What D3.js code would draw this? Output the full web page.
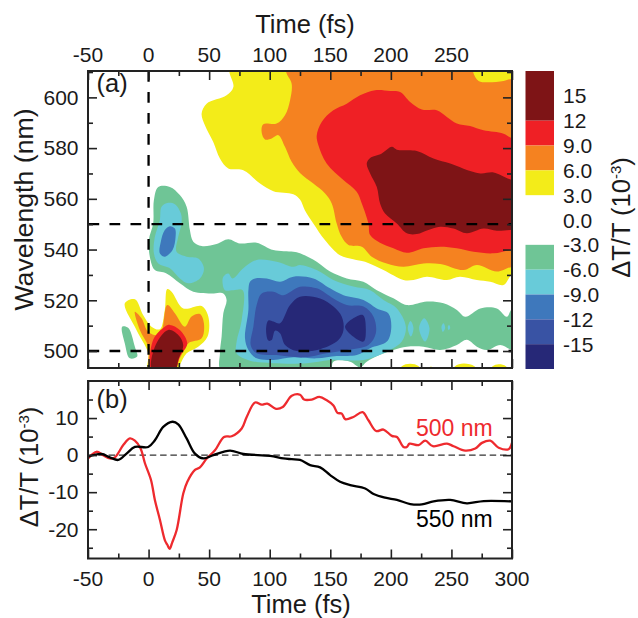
<!DOCTYPE html>
<html><head><meta charset="utf-8">
<script src="https://cdn.jsdelivr.net/npm/d3@7"></script>
<style>html,body{margin:0;padding:0;background:#fff}svg{display:block}text{font-family:"Liberation Sans",Arial,sans-serif;fill:#1a1a1a}</style>
</head><body><svg id="c" width="638" height="618"></svg>
<script>
// ---- colours of the contour bands
const cDark="#7E1416",cRed="#EF2025",cOrange="#F58220",cYellow="#F3EC19";
const cGreen="#6FC596",cCyan="#68CBD9",cBlue="#3E78BC",cMid="#3953A4",cNavy="#262877";

// ---- contour outlines: [time fs, wavelength nm]
const yellowMain=[[66.6,620],[66.6,610.3],[70,604.1],[64.4,600.8],[47.9,597.5],[43.8,593.6],[46.5,589],[53.4,582.4],[58.9,575.9],[65.8,572],[78.2,571.3],[92,566],[103,563],[119.5,561.8],[125,559.7],[129,555.5],[136,550.3],[145.7,543.7],[158,537.8],[169,536.2],[178.7,535.2],[193.9,531.9],[210.4,528],[218.7,528],[229.7,529.3],[246.2,528],[257,529.3],[271,528],[282,527.3],[293,526],[301.3,530.6],[325,530],[325,620]];
const orangeMain=[[113.4,620],[113.4,610.3],[118.1,605.4],[116.8,598.9],[112.6,593],[105.7,589.7],[94.7,589.4],[93.3,586.4],[96.1,583.4],[101.6,583.8],[107.1,585.1],[112.6,580.5],[118.1,574.6],[125,570.2],[136,566],[145.7,562.1],[151.2,558.2],[155.3,550.3],[159.4,545],[165,541.8],[176,541.1],[184.2,537.2],[196.6,534.5],[210.4,533.2],[226.9,534.5],[240.7,534.3],[260,531.9],[271,533.9],[287.5,531.3],[300.5,533.2],[325,533],[325,620]];
const yellowTop=[[267.7,620],[267.7,610.3],[272.4,606.5],[279.3,606],[293,606.5],[300.5,607.4],[325,607],[325,620]];
const redMain=[[138.8,585],[140.2,581.1],[147,573.9],[160.8,567.4],[171.8,562.8],[176,558.2],[181.5,550.3],[182.9,545.7],[191,542.7],[202.1,540.5],[213.2,538.7],[226.9,540.5],[240.7,541.1],[254.5,540.5],[268.3,539.1],[284.8,538.5],[300.5,540],[325,540],[325,581],[300.5,583.8],[293,585.7],[276.5,587],[265.4,588.7],[254.5,589.7],[246.2,592.3],[237.9,594.9],[225.6,595.2],[215.9,598.2],[207.6,602.1],[199.4,602.5],[187,602.8],[174.6,600.8],[163.6,597.5],[152.5,594.9],[142.9,590.3]];
const darkMain=[[180.1,573.9],[182.9,576.1],[192.5,577.9],[200.8,580.5],[204.9,579.4],[221.4,578.9],[235.2,575.9],[249,573.9],[260,571.9],[273.8,570],[284.8,570.4],[300.5,567.4],[325,567],[325,547],[300.5,547.7],[287.5,547.4],[276.5,548.3],[262.7,546.4],[251.7,548.3],[240.7,549],[231,547.7],[221.4,546.1],[213.2,546.4],[204.9,550.3],[195.2,554.2],[191.1,558.2],[188.4,564.7],[182.9,570]];
const yellowLow=[[-19.6,518.8],[-11.3,520.4],[-4.5,514.2],[2.4,509.6],[9.3,508.6],[13.4,516.2],[15.4,524.4],[19,523.4],[28.6,516.8],[43.8,517.7],[49.3,513.6],[48.7,505.7],[41,501.7],[31.4,499.1],[25.8,494.5],[23,492],[-0.3,492],[-0.3,499.1],[-10,508.3]];
const orangeLow=[[-11.3,515.5],[-5.8,512.9],[-0.3,507.6],[9.3,506.3],[15.4,518.1],[21.7,514.9],[30,509.6],[35.5,513.6],[42.4,514.6],[45.7,510.9],[43.8,505],[32.7,503],[25.8,497.1],[20.3,492],[1.6,492],[-0.3,501.7],[-7.2,508.3]];
const redLow=[[3.8,504.4],[13.4,509.6],[17.6,510.3],[25.8,508.3],[31.9,503],[25.8,497.8],[21,492],[3,492]];
const darkLow=[[5.2,501.7],[16.2,508.3],[24.5,506.3],[28.6,502.4],[24.5,496.5],[21.7,492],[3.2,492]];
const yellowFoot1=[[207,491],[209,494],[215.9,495],[223,494],[225,491]];
const yellowFoot2=[[230,491],[233,493.9],[237,491]];
const yellowFoot3=[[250,491],[253,494],[260,495.1],[269,494],[272,491]];
const yellowFoot4=[[281,491],[284,494],[289,494.8],[295,494],[298,491]];
const greenMain=[[8,564.7],[17.6,564.7],[25.8,561.5],[31.4,556.9],[34.1,547.7],[36.9,543.1],[43.8,541.4],[56.1,542.2],[65.8,544.1],[75.4,542.4],[89.2,542.7],[103,539.8],[119.5,539.1],[125,538.5],[138.8,535.2],[149.8,531.3],[163.6,528.6],[177.3,527.3],[188.4,524],[202.1,520.8],[213.2,518.1],[229.7,519.5],[243.5,518.8],[254.5,516.2],[261.4,513.5],[273.8,516.8],[287.5,516.8],[295.8,513.5],[300.5,516.8],[325,517],[325,500],[300.5,500.4],[290.3,502.4],[279.3,500.4],[271,501.7],[262.7,504.4],[254.5,502.4],[240.7,500.4],[226.9,501.7],[213.2,501.7],[202.1,500.4],[191.1,498.5],[180.1,495.8],[174.6,493.6],[166.3,495.8],[152.5,495.8],[149.8,492],[60.3,492],[58.9,499.1],[60.3,505.7],[61.7,514.9],[64.4,520.1],[61.7,522.7],[53.4,522.7],[36.9,523.4],[25.8,526.7],[14.8,530.6],[5.2,531.9],[1.6,535.9],[0.2,543.7],[3.8,550.3],[4.4,559.5]];
const greenLeft=[[-21.8,509.6],[-16.9,509.2],[-11.3,501.7],[-9.4,497.8],[-15.5,497.1],[-19.6,503]];
const greenFoot=[[-36,492],[-32,493.7],[-27,492]];
const cyanUpper=[[15.4,558.4],[21.7,557.9],[26.7,554.2],[27.2,550.3],[24.5,545],[23.1,539.1],[31.4,537.2],[41,536.5],[45.7,532.6],[42.4,528.6],[32.7,526.7],[25.8,528.6],[17.6,532.6],[8,534.5],[4.4,538.5],[5.2,545],[9.3,551.6],[10.7,556.9]];
const blueUpper=[[17.6,549.2],[21.7,548.3],[22.3,545],[19.8,539.8],[13.4,537.2],[9.3,538.5],[10.1,543.1],[13.4,547.7]];
const cyanMain=[[61.7,529.3],[65.8,530.6],[69.4,528.6],[78.2,532.6],[89.2,535.9],[105.7,535.2],[119.5,533.2],[125,533.9],[138.8,531.9],[152.5,528],[169,525.4],[182.9,524],[193.9,520.1],[204.9,516.8],[212.4,509.6],[209,503.7],[199.4,500.4],[177.4,496.5],[149.8,496.5],[130.6,495.2],[103,495.2],[83.7,496.2],[72.7,499],[72.7,503.7],[76.8,512],[77.7,524],[70,524],[63,524],[61.1,526.7]];
const cyanSpot1=[[216.2,511.8],[218.7,509],[216.5,505.7],[214,509]];
const cyanSpot2=[[227.5,512.9],[231.9,509],[228.3,503.7],[223.3,509]];
const cyanSpot3=[[243.5,510.9],[244.8,509],[242.9,507.6],[241.8,509.6]];
const cyanSpot4=[[248.1,510.3],[249,509],[247.6,508.3],[247,509.6]];
const blueMain=[[83.7,527.3],[87.9,528.6],[97.5,528.6],[108.5,527.3],[119.5,529.3],[136,528.6],[149.8,524.7],[160.9,522],[177.4,520.1],[188.4,516.8],[198,514.8],[200.3,508.9],[196.7,503.7],[182.9,501.1],[171.9,498.4],[155.4,498],[138.8,497.1],[119.5,497.5],[103,496.5],[89.2,497.1],[82.4,500.4],[79.6,505],[82.4,516.2],[82.4,524]];
const midMain=[[89.2,518.1],[93.4,522.7],[103,523.4],[111.3,522],[125,525.3],[138.8,524.7],[152.6,520.7],[163.6,518.1],[177.4,517.5],[185.7,513.5],[187.6,507],[181.5,502.4],[163.6,500.4],[147.1,499.1],[127.8,497.5],[105.8,498.4],[89.2,499.1],[84.3,502.4],[86.5,509.6]];
const navyMain=[[125,521.4],[141.6,520.7],[152.6,517.5],[159.5,513.5],[160.9,508.3],[156.7,504.3],[141.6,500.7],[122.3,500],[112.7,502.4],[108.5,507],[104.4,508],[101.6,504.3],[98.9,504.1],[97,508.3],[98.9,512],[103,511.6],[108.5,510.9],[116.8,518.1]];
const navyRight=[[176.8,514.2],[179.3,508.9],[177.4,503.7],[162.2,509.6]];

const contourLayers=[
 [yellowMain,cYellow],[orangeMain,cOrange],[yellowTop,cYellow],[redMain,cRed],[darkMain,cDark],
 [yellowLow,cYellow],[orangeLow,cOrange],[redLow,cRed],[darkLow,cDark],
 [yellowFoot1,cYellow],[yellowFoot2,cYellow],[yellowFoot3,cYellow],[yellowFoot4,cYellow],
 [greenMain,cGreen],[greenLeft,cGreen],[greenFoot,cGreen],
 [cyanUpper,cCyan],[blueUpper,cBlue],
 [cyanMain,cCyan],[cyanSpot1,cCyan],[cyanSpot2,cCyan],[cyanSpot3,cCyan],[cyanSpot4,cCyan],
 [blueMain,cBlue],[midMain,cMid],[navyMain,cNavy],[navyRight,cNavy]];

// ---- panel (b) traces: [time fs, dT/T x 1e-3]
const trace500=[[-50,-0.9],[-43,0.9],[-37.5,0],[-32,-0.9],[-27.8,-0.6],[-20.9,2.7],[-15.4,4.5],[-11.3,3.9],[-6.6,1.8],[-3,-2.2],[2,-6.7],[5.2,-12.1],[9.4,-17.5],[13.5,-23],[15.5,-24.2],[17.4,-25.3],[19.5,-23.6],[23.2,-20.2],[28.7,-10.3],[32,-7.2],[38.3,-4],[42.4,-3.3],[48,-0.9],[54.8,1.3],[62.3,4.9],[68.6,5.1],[76.9,7.2],[81,10.3],[87.9,14.2],[93.4,13.6],[98,13.9],[105.2,12.5],[110.8,13],[118.2,16],[125,16.3],[128.4,15],[134.7,15],[141,15.7],[147.1,14.8],[152.6,13.4],[155.9,11.4],[159.5,11.2],[162.3,9.7],[169.1,10.3],[176.6,11.6],[181.5,9.4],[187.9,6.5],[193.9,6.9],[200.8,5.2],[205,4.9],[210.5,2.2],[213.2,2.2],[215.4,3.1],[222.9,2.7],[228.4,3.9],[234.7,2.4],[246.3,3.1],[251.8,2.4],[261.4,1.2],[269.7,1.8],[275.2,3.3],[282.1,3.9],[289,2],[297.2,1.6],[300,3.3]];
const trace550=[[-50,-0.4],[-38.8,0.3],[-32,-0.6],[-25,-1.3],[-18.2,0.4],[-11.3,2.2],[-0.3,2.2],[5.2,4],[12.1,7.6],[19.8,9],[24.5,8.3],[31.4,4.5],[38.3,0.4],[45.2,-0.9],[53.5,0],[67.2,1.2],[78.3,0.3],[100.3,-0.2],[111.3,-0.9],[118.2,-1.1],[125,-1.3],[133.3,-2.7],[141.6,-3.3],[149.9,-5.4],[158.1,-7.2],[166.4,-8.1],[178.8,-9],[185.7,-10.5],[195.3,-11.5],[205,-12.1],[216,-13.2],[225.6,-13.3],[235.3,-12.5],[249,-12.1],[262.8,-13],[276.6,-12.4],[300,-12.5]];

// ---- ticks, labels, legend
const timeMajor=[-50,0,50,100,150,200,250,300];
const timeMinor=[-25,25,75,125,175,225,275];
const topLabels=[-50,0,50,100,150,200,250];
const waveMajor=[500,520,540,560,580,600];
const waveMinor=[510,530,550,570,590,610];
const signalMajor=[-20,-10,0,10];
const signalMinor=[-25,-15,-5,5,15];
const guideWaves=[550,500];
const guideTimes=[0];
const legendBands=[[12,18,cDark],[9,12,cRed],[6,9,cOrange],[3,6,cYellow],[-6,-3,cGreen],[-9,-6,cCyan],[-12,-9,cBlue],[-15,-12,cMid],[-18,-15,cNavy]];
const legendTicks=[15,12,9,6,3,0,-3,-6,-9,-12,-15];
const legendText=["15","12","9.0","6.0","3.0","0.0","-3.0","-6.0","-9.0","-12","-15"];

const svg=d3.select("#c");
const L=88,R=512,aT=71,aB=368,bT=381,bB=558.5;
const xA=d3.scaleLinear([-50,300],[L,R]);
const yA=d3.scaleLinear([493.3,610.4],[aB,aT]);
const yB=d3.scaleLinear([-27.9,20],[bB,bT]);
const yC=d3.scaleLinear([-18,18],[369,71]);

svg.append("defs").append("clipPath").attr("id","ca").append("rect")
 .attr("x",L).attr("y",aT).attr("width",R-L).attr("height",aB-aT);
svg.append("defs").append("clipPath").attr("id","cb").append("rect")
 .attr("x",L).attr("y",bT).attr("width",R-L).attr("height",bB-bT);

const poly=d3.line().x(d=>xA(d[0])).y(d=>yA(d[1])).curve(d3.curveCatmullRomClosed.alpha(0.5));
const gA=svg.append("g").attr("clip-path","url(#ca)");
gA.selectAll("path").data(contourLayers).join("path").attr("d",d=>poly(d[0])).attr("fill",d=>d[1]);

const dash="10.7,10.3";
gA.selectAll("line.h").data(guideWaves).join("line").attr("class","h")
 .attr("x1",L+0.5).attr("x2",R).attr("y1",d=>yA(d)).attr("y2",d=>yA(d))
 .attr("stroke","#000").attr("stroke-width",2.3).attr("stroke-dasharray",dash);
gA.selectAll("line.v").data(guideTimes).join("line").attr("class","v")
 .attr("y1",aT).attr("y2",aB).attr("x1",d=>xA(d)).attr("x2",d=>xA(d))
 .attr("stroke","#000").attr("stroke-width",2.3).attr("stroke-dasharray",dash);

const gB=svg.append("g").attr("clip-path","url(#cb)");
gB.append("line").attr("x1",L).attr("x2",R).attr("y1",yB(0)).attr("y2",yB(0))
 .attr("stroke","#333").attr("stroke-width",1.3).attr("stroke-dasharray","6.5,3.8");
const lineB=d3.line().x(d=>xA(d[0])).y(d=>yB(d[1])).curve(d3.curveCatmullRom.alpha(0.5));
gB.append("path").attr("d",lineB(trace500)).attr("fill","none").attr("stroke","#EE2A2E").attr("stroke-width",2.3);
gB.append("path").attr("d",lineB(trace550)).attr("fill","none").attr("stroke","#000").attr("stroke-width",2.3);

// axes
function ax(gen,tx,ty,vals,size){
  const a=gen.tickValues(vals).tickSize(size).tickFormat("");
  const g=svg.append("g").attr("transform",`translate(${tx},${ty})`).call(a);
  g.select(".domain").remove();
  g.selectAll("line").attr("stroke","#222").attr("stroke-width",1.6);
  return g;
}
const major=9,minor=5;
// panel a
ax(d3.axisTop(xA),0,aT,timeMajor,-major);
ax(d3.axisTop(xA),0,aT,timeMinor,-minor);
ax(d3.axisBottom(xA),0,aB,timeMajor,-major);
ax(d3.axisBottom(xA),0,aB,timeMinor,-minor);
ax(d3.axisLeft(yA),L,0,waveMajor,-major);
ax(d3.axisLeft(yA),L,0,waveMinor,-minor);
ax(d3.axisRight(yA),R,0,waveMajor,-major);
ax(d3.axisRight(yA),R,0,waveMinor,-minor);
// panel b
ax(d3.axisTop(xA),0,bT,timeMajor,-major);
ax(d3.axisTop(xA),0,bT,timeMinor,-minor);
ax(d3.axisBottom(xA),0,bB,timeMajor,-major);
ax(d3.axisBottom(xA),0,bB,timeMinor,-minor);
ax(d3.axisLeft(yB),L,0,signalMajor,-major);
ax(d3.axisLeft(yB),L,0,signalMinor,-minor);
ax(d3.axisRight(yB),R,0,signalMajor,-major);
ax(d3.axisRight(yB),R,0,signalMinor,-minor);

// frames
[[aT,aB],[bT,bB]].forEach(([t,b])=>svg.append("rect").attr("x",L).attr("y",t).attr("width",R-L).attr("height",b-t)
 .attr("fill","none").attr("stroke","#222").attr("stroke-width",2));

// tick labels
const TF=21;
const tl=(x,y,s,anc)=>svg.append("text").attr("x",x).attr("y",y).attr("text-anchor",anc).style("font-size",TF+"px").text(s);
topLabels.forEach(d=>tl(xA(d),61.5,d,"middle"));
timeMajor.forEach(d=>tl(xA(d),586,d,"middle"));
waveMajor.forEach(d=>tl(78.5,yA(d)+7.3,d,"end"));
signalMajor.forEach(d=>tl(78.5,yB(d)+7.3,d,"end"));

// titles
const tt=(x,y,s,size,anc)=>svg.append("text").attr("x",x).attr("y",y).attr("text-anchor",anc||"middle").style("font-size",size+"px").text(s);
const HF=25.5;
tt(305,33.3,"Time (fs)",HF);
tt(301,613,"Time (fs)",HF);
svg.append("text").attr("transform","translate(33,209.5) rotate(-90)").attr("text-anchor","middle").style("font-size","26.7px").text("Wavelength (nm)");
function dtt(g){ g.append("tspan").text("ΔT/T (10"); g.append("tspan").text("-3").attr("dy",-9).style("font-size","15px");
  g.append("tspan").text(")").attr("dy",9); }
dtt(svg.append("text").attr("transform","translate(38,467) rotate(-90)").attr("text-anchor","middle").style("font-size",HF+"px"));
dtt(svg.append("text").attr("transform","translate(630,217.5) rotate(-90)").attr("text-anchor","middle").style("font-size",HF+"px"));
tt(96.5,91.7,"(a)",HF,"start");
tt(96.5,408.3,"(b)",HF,"start");

// series labels
svg.append("text").attr("x",416).attr("y",435.7).style("font-size","23px").style("fill","#EE2A2E").text("500 nm");
svg.append("text").attr("x",416).attr("y",526.7).style("font-size","23px").style("fill","#000").text("550 nm");

// legend
svg.append("g").selectAll("rect").data(legendBands).join("rect")
 .attr("x",525.5).attr("width",28.5).attr("y",d=>yC(d[1])).attr("height",d=>yC(d[0])-yC(d[1])).attr("fill",d=>d[2]);
svg.append("g").selectAll("text").data(legendTicks).join("text")
 .attr("x",563).attr("y",d=>yC(d)+7.5).style("font-size",TF+"px").text((d,i)=>legendText[i]);
</script></body></html>
